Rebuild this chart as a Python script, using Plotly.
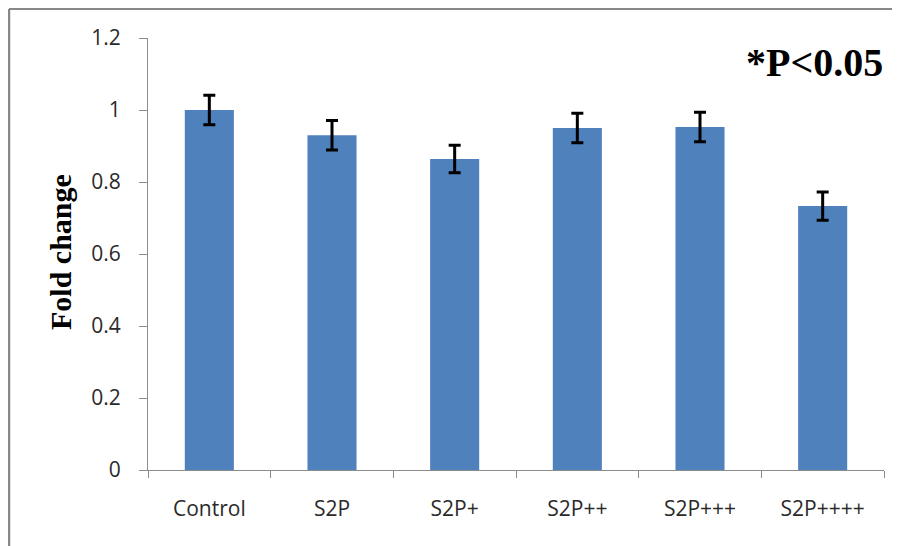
import plotly.graph_objects as go

categories = ["Control", "S2P", "S2P+", "S2P++", "S2P+++", "S2P++++"]
fold_change = [1.0, 0.93, 0.864, 0.95, 0.953, 0.733]
errors = [0.041, 0.041, 0.038, 0.041, 0.041, 0.039]
y_ticks = [0, 0.2, 0.4, 0.6, 0.8, 1.0, 1.2]
y_tick_labels = ["0", "0.2", "0.4", "0.6", "0.8", "1", "1.2"]

fig = go.Figure()
fig.add_trace(go.Bar(
    x=categories, y=fold_change,
    marker=dict(color="#4F81BD", line=dict(width=0)),
    width=0.4,
    error_y=dict(type="data", array=errors, visible=True,
                 color="black", thickness=3, width=6),
))

grey = "#8C8C8C"
tick_font = dict(family="Open Sans, DejaVu Sans", size=21, color="#2a2a2a")

# page body has an 8px margin: figure sits at (8, 8)
L, T, R, B = 140, 30, 16, 76
W, H = 892, 538
PW = W - L - R   # 736
PH = H - T - B   # 432

fig.update_layout(
    width=W, height=H,
    margin=dict(l=L, r=R, t=T, b=B),
    paper_bgcolor="white", plot_bgcolor="white",
    showlegend=False,
    bargap=0.6,
    xaxis=dict(
        type="category",
        showline=True, linecolor=grey, linewidth=1,
        ticks="outside", tickson="boundaries", ticklen=7, tickcolor=grey,
        tickfont=tick_font, ticklabelstandoff=20,
        showgrid=False, zeroline=False,
    ),
    yaxis=dict(
        range=[0, 1.2], tickvals=y_ticks, ticktext=y_tick_labels,
        showline=True, linecolor=grey, linewidth=1,
        ticks="outside", ticklen=8, tickcolor=grey,
        tickfont=tick_font, ticklabelstandoff=14,
        showgrid=False, zeroline=False,
    ),
)

serif = "Liberation Serif, Times New Roman"
fig.add_annotation(
    xref="paper", yref="paper", x=(52 - L) / PW, y=(T + PH - 244) / PH,
    xanchor="center", yanchor="middle", textangle=-90,
    text="<b>Fold change</b>", showarrow=False,
    font=dict(family=serif, size=30, color="black"),
)
fig.add_annotation(
    xref="paper", yref="paper", x=(877 - L) / PW, y=(T + PH - 54) / PH,
    xanchor="right", yanchor="middle",
    text="<b>*P<0.05</b>", showarrow=False,
    font=dict(family=serif, size=40, color="black"),
)

# image frame lines (top and left)
fig.add_shape(type="line", xref="paper", yref="paper",
              x0=(1 - L) / PW, x1=(W - L) / PW,
              y0=(T + PH - 1) / PH, y1=(T + PH - 1) / PH,
              line=dict(color="#888888", width=2))
fig.add_shape(type="line", xref="paper", yref="paper",
              x0=(1 - L) / PW, x1=(1 - L) / PW,
              y0=(T + PH - 1) / PH, y1=(T + PH - H) / PH,
              line=dict(color="#888888", width=2.5))

fig.write_html("out.html")
